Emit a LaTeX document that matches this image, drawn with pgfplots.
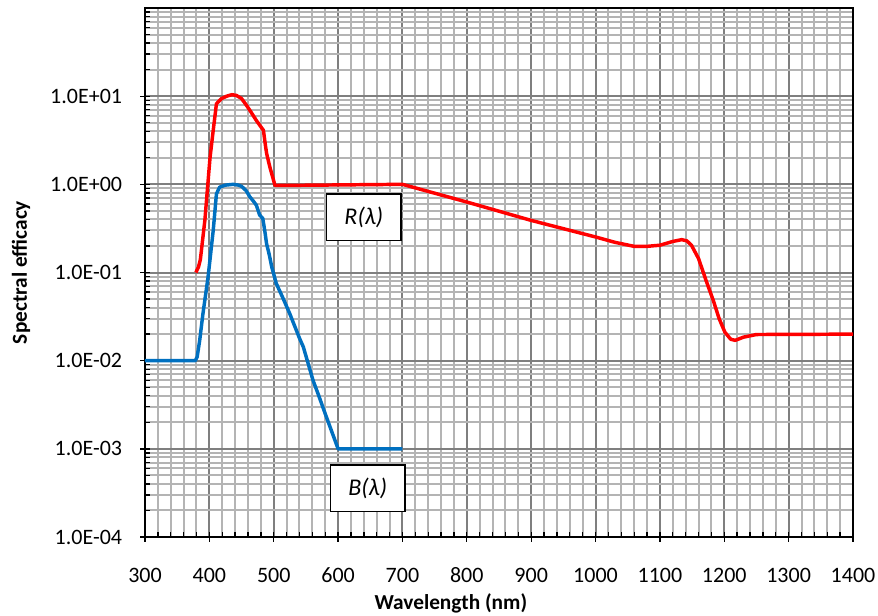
\documentclass[border=0pt]{standalone}
\usepackage{fontspec}
\setmainfont{Carlito}
\usepackage{pgfplots}
\pgfplotsset{compat=1.18}
\usetikzlibrary{calc}
\definecolor{rcurve}{HTML}{FF0000}
\definecolor{bcurve}{HTML}{0070C0}
\definecolor{majgrid}{HTML}{7F7F7F}
\definecolor{mingrid}{HTML}{B4B4B4}
\begin{document}
\begin{tikzpicture}
\begin{axis}[
  name=ax, scale only axis, width=531pt, height=396.75pt,
  ymode=log, xmin=300, xmax=1400, ymin=1e-4, ymax=100,
  xtick={300,400,...,1400}, minor x tick num=4,
  ytick={1e-4,1e-3,1e-2,1e-1,1,10},
  yticklabels={1.0E-04,1.0E-03,1.0E-02,1.0E-01,1.0E+00,1.0E+01},
  minor ytick={2e-4,3e-4,4e-4,5e-4,6e-4,7e-4,8e-4,9e-4,
               2e-3,3e-3,4e-3,5e-3,6e-3,7e-3,8e-3,9e-3,
               2e-2,3e-2,4e-2,5e-2,6e-2,7e-2,8e-2,9e-2,
               0.2,0.3,0.4,0.5,0.6,0.7,0.8,0.9,
               2,3,4,5,6,7,8,9,
               20,30,40,50,60,70,80,90},
  grid=both,
  major grid style={majgrid, line width=1.5pt},
  minor grid style={mingrid, line width=1.5pt},
  axis line style={black, line width=1.4pt},
  xtick pos=bottom, ytick pos=left,
  tick align=inside, tick style={black, line width=1pt},
  major tick length=7pt, minor tick length=4pt,
  major x tick style={yshift=-3.5pt},
  major y tick style={xshift=-3.5pt},
  /pgf/number format/assume math mode=true,
  /pgf/number format/1000 sep={},
  tick label style={font=\fontsize{16.5}{19}\selectfont},
  xticklabel style={anchor=center, yshift=-28.5pt},
  yticklabel style={anchor=east, inner sep=0pt, xshift=-17pt},
  xlabel={\textbf{Wavelength (nm)}},
  ylabel={\textbf{Spectral efficacy}},
  label style={font=\fontsize{16}{19}\selectfont},
  xlabel style={at={(axis description cs:0.432,0)}, anchor=center, yshift=-49.5pt},
  ylabel style={at={(axis description cs:0,0.5)}, anchor=center, rotate=0, yshift=93pt},
]
\addplot[bcurve, line width=2.6pt, line join=round] coordinates {
(300,0.01) (378,0.01) (381,0.011) (385,0.017) (390,0.034) (398,0.089)
(406,0.30) (411,0.78) (416,0.93) (425,0.98) (437,1.0) (445,0.98)
(450,0.95) (457,0.85) (463,0.72) (468,0.65) (473,0.58) (478,0.45)
(483,0.41) (486,0.30) (489,0.21) (493,0.16) (497,0.115) (504,0.075)
(515,0.05) (525,0.034) (540,0.018) (546,0.0143) (561,0.006) (570,0.004)
(580,0.0025) (600,0.001) (700,0.001)
};
\addplot[rcurve, line width=2.6pt, line join=round] coordinates {
(379,0.1) (383,0.115) (386,0.14) (393,0.39) (401,2.0) (406,4.1)
(411,8.2) (419,9.4) (427,10.0) (435,10.4) (442,10.2) (450,9.4)
(457,8.0) (463,6.9) (473,5.3) (480,4.5) (484,4.1) (487,2.8)
(489,2.23) (494,1.57) (502,0.97) (700,1.0) (800,0.63) (900,0.39)
(1000,0.253) (1030,0.22) (1060,0.198) (1080,0.198) (1100,0.204)
(1120,0.225) (1134,0.236) (1142,0.228) (1149,0.204) (1160,0.144)
(1172,0.08) (1183,0.048) (1192,0.03) (1201,0.021) (1210,0.0175)
(1217,0.017) (1230,0.0185) (1250,0.0198) (1400,0.02)
};
\node[draw=black, line width=1.2pt, fill=white, minimum width=56pt, minimum height=35pt,
  font=\fontsize{18}{21}\selectfont\itshape] at (axis cs:640,0.4225) {R(λ)};
\node[draw=black, line width=1.2pt, fill=white, minimum width=56pt, minimum height=35pt,
  font=\fontsize{18}{21}\selectfont\itshape] at (axis cs:646,3.57e-4) {B(λ)};
\end{axis}
\pgfresetboundingbox
\path ($(ax.south west)+(-108.75pt,-58.5pt)$) rectangle ($(ax.north east)+(18.75pt,6pt)$);
\end{tikzpicture}
\end{document}
